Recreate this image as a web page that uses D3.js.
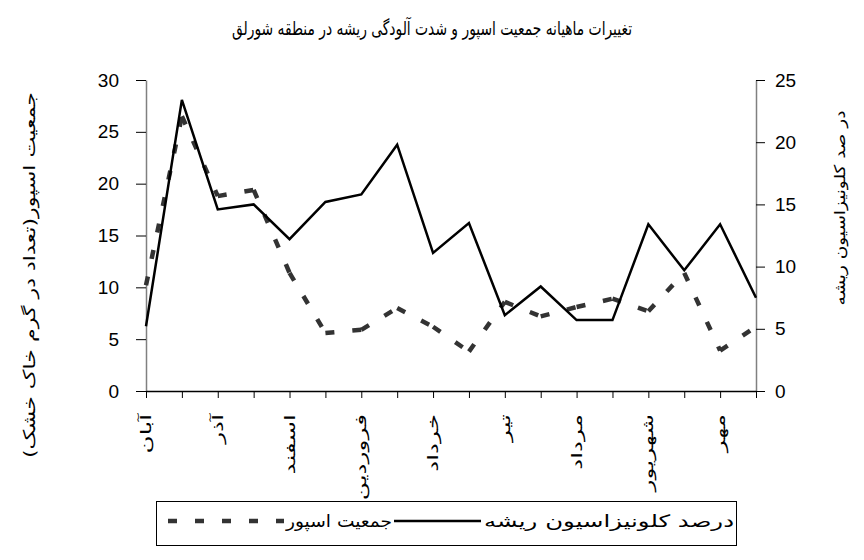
<!DOCTYPE html>
<html>
<head>
<meta charset="utf-8">
<script src="https://cdn.jsdelivr.net/npm/d3@7/dist/d3.min.js"></script>
<style>
  body { margin: 0; background: #fff; }
  svg { display: block; }
</style>
</head>
<body>
<svg id="chart" width="864" height="560"></svg>
<script>
// Sampling dates (only every other one carries a month name on the axis)
const tickLabels = ["آبان", "", "آذر", "", "اسفند", "", "فروردین", "", "خرداد", "",
                    "تیر", "", "مرداد", "", "شهریور", "", "مهر", ""];
// Spore population (left axis)
const sporeCount = [10.2, 26.5, 18.8, 19.4, 11.4, 5.6, 5.9, 8.0, 6.2, 3.8,
                    8.6, 7.2, 8.1, 8.9, 7.7, 11.4, 3.9, 6.2];
// Root colonization percentage (right axis)
const colonization = [5.2, 23.4, 14.6, 15.0, 12.2, 15.2, 15.8, 19.8, 11.1, 13.5,
                      6.1, 8.4, 5.7, 5.7, 13.4, 9.7, 13.4, 7.5];
const leftTicks = [0, 5, 10, 15, 20, 25, 30];
const rightTicks = [0, 5, 10, 15, 20, 25];

const titleText = "تغییرات ماهیانه جمعیت اسپور و شدت آلودگی ریشه در منطقه شورلق";
const leftAxisTitle = "جمعیت اسپور(تعداد در گرم خاک خشک)";
const rightAxisTitle = "در صد کلونیزاسیون ریشه";
const sporeName = "جمعیت اسپور";
const colonizationName = "درصد کلونیزاسیون ریشه";

const arabicFont = "'DejaVu Sans', sans-serif";
const numFont = "'Liberation Sans', Arial, sans-serif";

const svg = d3.select("#chart");

const plot = { left: 146, right: 756, top: 80, bottom: 391 };

const x = d3.scalePoint().domain(d3.range(tickLabels.length)).range([plot.left, plot.right]);
const yLeft = d3.scaleLinear().domain([0, 30]).range([plot.bottom, plot.top]);
const yRight = d3.scaleLinear().domain([0, 25]).range([plot.bottom, plot.top]);

// set a text run to a given length along its baseline
function setLength(sel, len) {
  sel.attr("textLength", len).attr("lengthAdjust", "spacingAndGlyphs");
}

// title
const title = svg.append("text")
  .attr("x", 432).attr("y", 28).attr("dy", "0.35em")
  .attr("text-anchor", "middle")
  .attr("font-family", arabicFont).attr("font-size", 19)
  .attr("fill", "#000")
  .text(titleText);
setLength(title, 400);

// left axis
const gL = svg.append("g").attr("transform", `translate(${plot.left},0)`)
  .call(d3.axisLeft(yLeft).tickValues(leftTicks).tickSize(10).tickSizeOuter(0).tickPadding(17));
gL.select(".domain").attr("stroke", "#808080").attr("stroke-width", 1.5);
gL.selectAll(".tick line").attr("stroke", "#000");
gL.selectAll(".tick text").attr("font-family", numFont).attr("font-size", 19).attr("fill", "#000");

// right axis
const gR = svg.append("g").attr("transform", `translate(${plot.right},0)`)
  .call(d3.axisRight(yRight).tickValues(rightTicks).tickSize(9).tickSizeOuter(0).tickPadding(10));
gR.select(".domain").attr("stroke", "#808080").attr("stroke-width", 1.5);
gR.selectAll(".tick line").attr("stroke", "#000");
gR.selectAll(".tick text").attr("font-family", numFont).attr("font-size", 19).attr("fill", "#000");

// category axis with month names written downwards
const gX = svg.append("g").attr("transform", `translate(0,${plot.bottom})`)
  .call(d3.axisBottom(x).tickSize(7).tickSizeOuter(0).tickFormat(i => tickLabels[i]));
gX.select(".domain").attr("stroke", "#000").attr("stroke-width", 1.5);
gX.selectAll(".tick line").attr("stroke", "#000");
gX.selectAll(".tick text")
  .attr("font-family", arabicFont).attr("font-size", 15).attr("fill", "#000")
  .attr("transform", "rotate(-90)")
  .attr("x", -23).attr("y", 0).attr("dy", "0.3em")
  .attr("text-anchor", "end")
  .each(function () {
    const len = this.getComputedTextLength();
    if (len > 0) setLength(d3.select(this), len * 1.65);
  });

// axis titles
const lt = svg.append("text")
  .attr("transform", "translate(29,275) rotate(-90)")
  .attr("text-anchor", "middle").attr("dy", "0.35em")
  .attr("font-family", arabicFont).attr("font-size", 16).attr("fill", "#000")
  .text(leftAxisTitle);
setLength(lt, 366);

const rt = svg.append("text")
  .attr("transform", "translate(840,208) rotate(-90)")
  .attr("text-anchor", "middle").attr("dy", "0.35em")
  .attr("font-family", arabicFont).attr("font-size", 15).attr("fill", "#000")
  .text(rightAxisTitle);
setLength(rt, 195);

// series
const dashPattern = "9,18";
const sporeColor = "#333333";

const lineL = d3.line().x(d => x(d.i)).y(d => yLeft(d.v));
const lineR = d3.line().x(d => x(d.i)).y(d => yRight(d.v));

// spore line: each segment drawn on its own so the dash pattern restarts at every sample
const sporePts = sporeCount.map((v, i) => ({ i, v }));
svg.append("g").selectAll("path")
  .data(d3.pairs(sporePts))
  .join("path")
  .attr("d", d => lineL(d))
  .attr("fill", "none")
  .attr("stroke", sporeColor)
  .attr("stroke-width", 4.5)
  .attr("stroke-dasharray", dashPattern);

svg.append("path")
  .datum(colonization.map((v, i) => ({ i, v })))
  .attr("d", lineR)
  .attr("fill", "none")
  .attr("stroke", "#000")
  .attr("stroke-width", 2.5)
  .attr("stroke-linejoin", "miter");

// legend
const lg = svg.append("g");
lg.append("rect")
  .attr("x", 156.5).attr("y", 501.5).attr("width", 580).attr("height", 44)
  .attr("fill", "#fff").attr("stroke", "#000").attr("stroke-width", 1);
const legY = 521;
lg.append("line")
  .attr("x1", 168).attr("x2", 284).attr("y1", legY).attr("y2", legY)
  .attr("stroke", sporeColor).attr("stroke-width", 4.5).attr("stroke-dasharray", dashPattern);
const t1 = lg.append("text")
  .attr("x", 392).attr("y", legY).attr("dy", "0.35em").attr("text-anchor", "end")
  .attr("font-family", arabicFont).attr("font-size", 17).attr("fill", "#000")
  .text(sporeName);
setLength(t1, 106);
lg.append("line")
  .attr("x1", 394).attr("x2", 481).attr("y1", legY).attr("y2", legY)
  .attr("stroke", "#000").attr("stroke-width", 2.5);
const t2 = lg.append("text")
  .attr("x", 734).attr("y", legY).attr("dy", "0.35em").attr("text-anchor", "end")
  .attr("font-family", arabicFont).attr("font-size", 17).attr("fill", "#000")
  .text(colonizationName);
setLength(t2, 250);
</script>
</body>
</html>
